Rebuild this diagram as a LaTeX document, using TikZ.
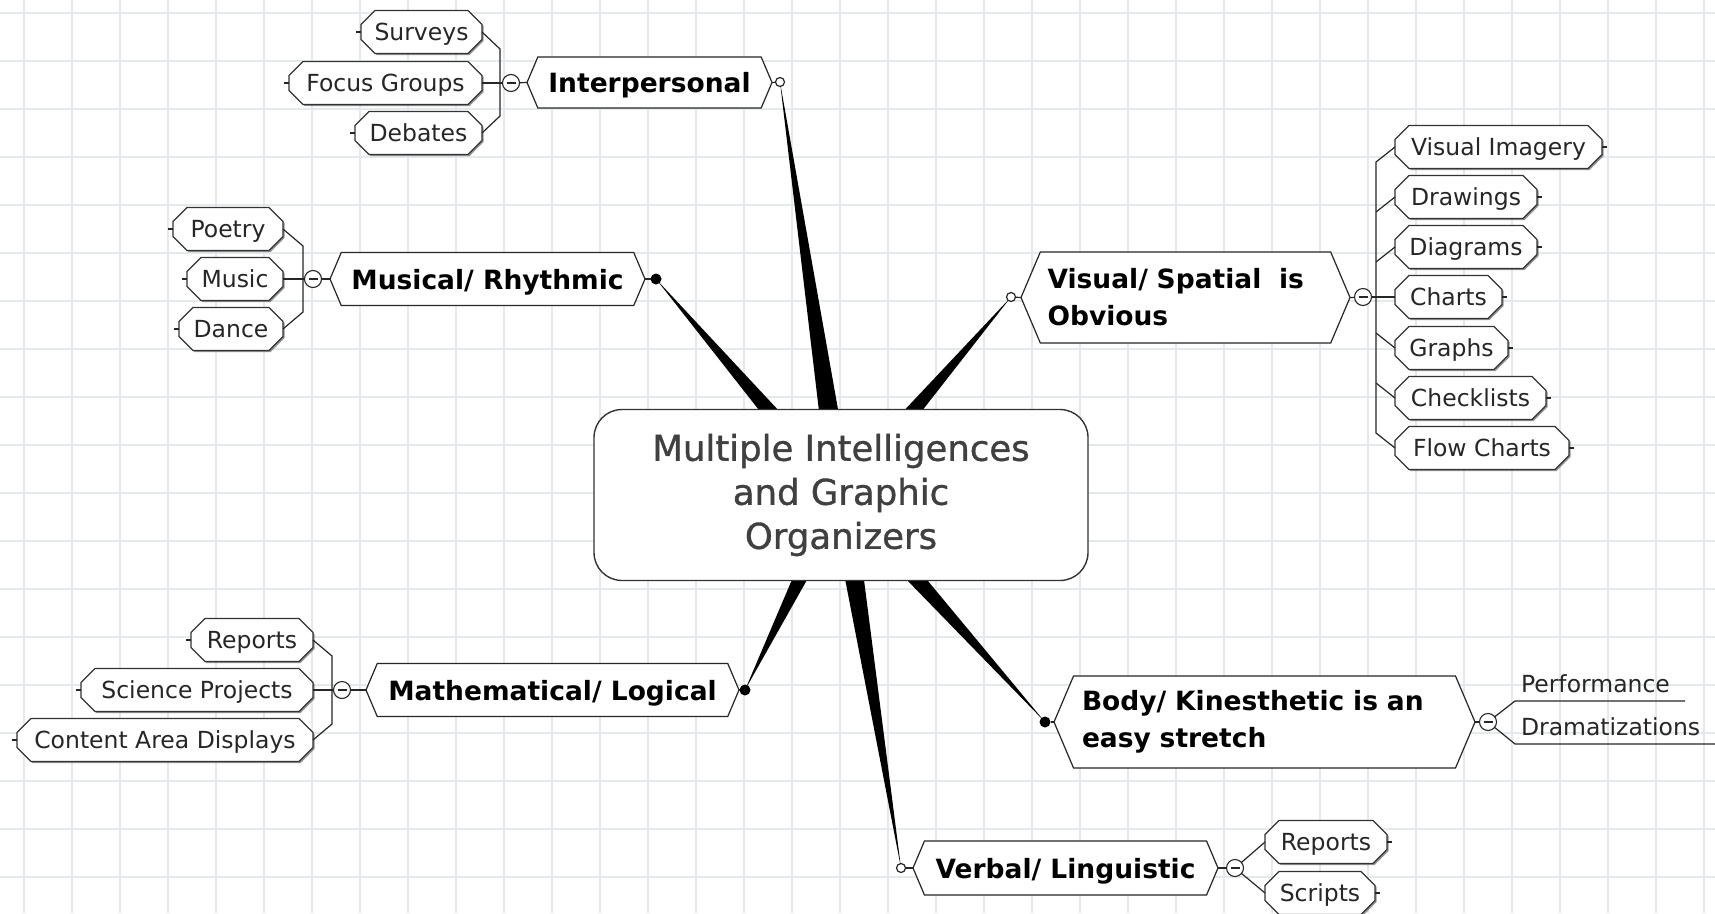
\documentclass[tikz,border=0pt]{standalone}
\usepackage{fontspec}
\setmainfont{DejaVu Sans}
\newfontfamily\hubfont{DejaVu Sans}[FakeBold=1]
\usetikzlibrary{calc,shapes.misc,shapes.symbols,shadows}
\pgfdeclarelayer{grid}
\pgfdeclarelayer{background}
\pgfsetlayers{grid,background,main}
\definecolor{gridcol}{RGB}{228,234,236}
\definecolor{hubtext}{RGB}{64,64,64}

\begin{document}
\begin{tikzpicture}[x=1pt, y=-1pt,
    every node/.style={inner sep=0pt, outer sep=0pt},
    gridline/.style={draw=gridcol, line width=1.6pt},
    link/.style={draw=black!85, line width=1.2pt},
    spoke/.style={fill=black},
    hub/.style={rectangle, rounded corners=28pt, draw=black!80, line width=1.4pt,
        fill=white, minimum width=494, minimum height=171, align=center,
        text=hubtext, font=\hubfont\fontsize{35.5}{44}\selectfont},
    topic/.style={signal, signal to=east and west, signal pointer angle=134,
        draw=black!85, line width=1.2pt, fill=white, align=left,
        font=\bfseries\fontsize{26.5}{37}\selectfont},
    leaf/.style={chamfered rectangle, chamfered rectangle sep=7pt,
        draw=black!80, line width=1.2pt, fill=white, minimum height=43,
        text height=17.5, text depth=0pt, text=black!85,
        font=\fontsize{23.5}{28}\selectfont,
        drop shadow={shadow xshift=1.5pt, shadow yshift=-1.5pt, opacity=0.6, fill=black!70}},
    plainleaf/.style={inner xsep=6pt, inner ysep=9pt, align=left, text depth=0pt,
        text=black!85, font=\fontsize{23.5}{28}\selectfont},
    dotopen/.style={circle, draw=black!85, line width=1.2pt, fill=white, minimum size=9},
    dotfull/.style={circle, fill=black, minimum size=11},
    fold/.style={circle, draw=black!85, line width=1.1pt, fill=white, minimum size=17,
        path picture={\draw[line width=1.2pt, black!85]
          ([xshift=-4.5pt]path picture bounding box.center) -- ([xshift=4.5pt]path picture bounding box.center);}}
]
\useasboundingbox (0,0) rectangle (1715,913);
\begin{pgfonlayer}{grid}
  \fill[white] (0,0) rectangle (1715,913);
  \foreach \gx in {24,72,...,1704} \draw[gridline] (\gx,0) -- (\gx,913);
  \foreach \gy in {13,61,...,877} \draw[gridline] (0,\gy) -- (1715,\gy);
\end{pgfonlayer}

\node[hub] (mi) at (841,495) {Multiple Intelligences\\and Graphic\\Organizers};

\node[topic, minimum width=245, minimum height=51, text height=20, text depth=0pt] (ip) at (649.5,82.5) {Interpersonal};
\node[topic, minimum width=315, minimum height=53, text height=20, text depth=0pt] (mr) at (487.5,279) {Musical/ Rhythmic};
\node[topic, minimum width=329, minimum height=91, text width=276] (vs) at (1185.5,297.5) {Visual/ Spatial~ is\\Obvious};
\node[topic, minimum width=373, minimum height=53, text height=20, text depth=0pt] (ml) at (552.5,690) {Mathematical/ Logical};
\node[topic, minimum width=421, minimum height=92, text width=365] (bk) at (1264.5,722) {Body/ Kinesthetic is an\\easy stretch};
\node[topic, minimum width=305, minimum height=54, text height=20, text depth=0pt] (vl) at (1065.5,868) {Verbal/ Linguistic};

\node[dotopen] (ipdot) at (780,82) {};
\node[dotfull] (mrdot) at (656,279) {};
\node[dotopen] (vsdot) at (1011,297) {};
\node[dotfull] (mldot) at (745,690) {};
\node[dotfull] (bkdot) at (1045,722) {};
\node[dotopen] (vldot) at (901,868) {};

\begin{pgfonlayer}{background}
  \foreach \d in {ipdot,mrdot,vsdot,mldot,bkdot,vldot}
    \fill[spoke] ($(mi.center)!12pt!90:(\d.center)$) -- (\d.center)
      -- ($(mi.center)!12pt!-90:(\d.center)$) -- cycle;
\end{pgfonlayer}

\draw[link] (ipdot) -- (ip.east);
\draw[link] (mrdot) -- (mr.east);
\draw[link] (vsdot) -- (vs.west);
\draw[link] (mldot) -- (ml.east);
\draw[link] (bkdot) -- (bk.west);
\draw[link] (vldot) -- (vl.west);

\node[fold] (ipc) at (511,83) {};
\node[fold] (mrc) at (313,279) {};
\node[fold] (vsc) at (1363,297) {};
\node[fold] (mlc) at (342,690) {};
\node[fold] (bkc) at (1488,722) {};
\node[fold] (vlc) at (1235,868) {};

\foreach \n/\lbl/\bw/\y in {sv/Surveys/121/32, fg/Focus Groups/193/83, db/Debates/127/133}{
  \node[leaf, minimum width=\bw, anchor=east] (\n) at (482,\y) {\lbl};
  \draw[link] (\n.west) -- ++(-5,0);
}
\foreach \n/\lbl/\bw/\y in {po/Poetry/110/229, mu/Music/96/279, da/Dance/104/329}{
  \node[leaf, minimum width=\bw, anchor=east] (\n) at (283,\y) {\lbl};
  \draw[link] (\n.west) -- ++(-5,0);
}
\foreach \n/\lbl/\bw/\y in {vi/Visual Imagery/207/147, dw/Drawings/142/197, dg/Diagrams/142/247,
    ch/Charts/107/297, gr/Graphs/113/348, cl/Checklists/151/398, fc/Flow Charts/174/448}{
  \node[leaf, minimum width=\bw, anchor=west] (\n) at (1395,\y) {\lbl};
  \draw[link] (\n.east) -- ++(5,0);
}
\foreach \n/\lbl/\bw/\y in {rp/Reports/122/640, sp/Science Projects/232/690, ca/Content Area Displays/296/740}{
  \node[leaf, minimum width=\bw, anchor=east] (\n) at (313,\y) {\lbl};
  \draw[link] (\n.west) -- ++(-5,0);
}
\foreach \n/\lbl/\bw/\y in {vr/Reports/122/842, sc/Scripts/110/893}{
  \node[leaf, minimum width=\bw, anchor=west] (\n) at (1265,\y) {\lbl};
  \draw[link] (\n.east) -- ++(5,0);
}
\node[plainleaf, anchor=south west, text width=158] (pf) at (1515,701) {Performance};
\node[plainleaf, anchor=south west, text width=188] (dz) at (1515,744) {Dramatizations};

\draw[link] (sv.east) -- ++(18,17) -- ($(db.east)+(18,-17)$) -- (db.east);
\draw[link] (fg.east) -- (ipc);
\draw[link] (ipc) -- (ip.west);

\draw[link] (po.east) -- ++(20,17) -- ($(da.east)+(20,-17)$) -- (da.east);
\draw[link] (mu.east) -- (mrc);
\draw[link] (mrc) -- (mr.west);

\draw[link] (vi.west) -- ++(-19,15) -- ($(fc.west)+(-19,-15)$) -- (fc.west);
\foreach \n in {dw,dg} \draw[link] (\n.west) -- ++(-19,15);
\foreach \n in {gr,cl} \draw[link] (\n.west) -- ++(-19,-15);
\draw[link] (ch.west) -- (vsc);
\draw[link] (vsc) -- (vs.east);

\draw[link] (rp.east) -- ++(19,16) -- ($(ca.east)+(19,-16)$) -- (ca.east);
\draw[link] (sp.east) -- (mlc);
\draw[link] (mlc) -- (ml.west);

\draw[link] (bk.east) -- (bkc);
\draw[link] (bkc) -- (pf.south west) -- (pf.south east);
\draw[link] (bkc) -- (dz.south west) -- (dz.south east);

\draw[link] (vl.east) -- (vlc);
\draw[link] (vlc) -- (vr.west);
\draw[link] (vlc) -- (sc.west);
\end{tikzpicture}
\end{document}
